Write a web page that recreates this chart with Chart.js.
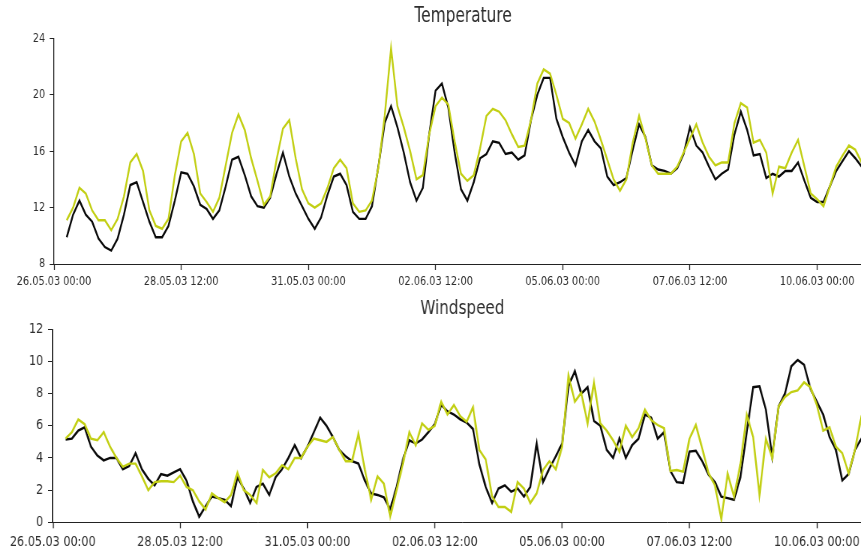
<!DOCTYPE html>
<html>
<head>
<meta charset="utf-8">
<script src="https://cdn.jsdelivr.net/npm/chart.js@4.4.1/dist/chart.umd.min.js"></script>
<style>
  html, body { margin: 0; padding: 0; background: #fff; overflow: hidden; width: 861px; height: 552px; }
  .panel { position: absolute; left: 0; transform-origin: 0 0; }
  #tempPanel { top: 0; transform: scaleX(0.75); }
  #windPanel { top: 290px; transform: scaleX(0.8); }
  canvas { display: block; }
</style>
</head>
<body>
<div class="panel" id="tempPanel"><canvas id="tempChart" width="1163" height="290"></canvas></div>
<div class="panel" id="windPanel"><canvas id="windChart" width="1090" height="262"></canvas></div>
<script>
// Time axis: hours since 26.05.03 00:00, samples every 3 hours from 06:00
const startHour = 6;
const stepHours = 3;
const xMaxHours = 386;
const tickHours = [0, 60, 120, 180, 240, 300, 360];
const tickLabels = ['26.05.03 00:00', '28.05.03 12:00', '31.05.03 00:00', '02.06.03 12:00',
                    '05.06.03 00:00', '07.06.03 12:00', '10.06.03 00:00'];

// Temperature (°C)
const tempBlack = [
  9.9, 11.5, 12.5, 11.5, 11.0, 9.8, 9.2, 8.95, 9.8, 11.5,
  13.6, 13.8, 12.4, 11.0, 9.9, 9.9, 10.7, 12.5, 14.5, 14.4,
  13.5, 12.2, 11.9, 11.2, 11.8, 13.5, 15.4, 15.6, 14.3, 12.8,
  12.1, 12.0, 12.7, 14.4, 15.9, 14.2, 13.0, 12.1, 11.2, 10.5,
  11.3, 12.9, 14.2, 14.4, 13.6, 11.7, 11.2, 11.2, 12.1, 14.9,
  18.0, 19.2, 17.7, 15.9, 13.8, 12.5, 13.4, 17.2, 20.3, 20.8,
  19.1, 15.9, 13.3, 12.5, 13.8, 15.5, 15.8, 16.7, 16.6, 15.8,
  15.9, 15.4, 15.7, 18.2, 20.0, 21.2, 21.2, 18.3, 17.0, 15.9,
  15.0, 16.7, 17.5, 16.7, 16.2, 14.2, 13.6, 13.8, 14.1, 16.1,
  17.9, 17.0, 15.0, 14.7, 14.6, 14.4, 14.8, 15.8, 17.7, 16.4,
  15.9, 14.9, 14.0, 14.4, 14.7, 17.2, 18.8, 17.5, 15.7, 15.8,
  14.1, 14.4, 14.2, 14.6, 14.6, 15.2, 13.9, 12.7, 12.4, 12.4,
  13.5, 14.6, 15.3, 16.0, 15.5, 14.9, 14.3, 13.8
];
const tempYellow = [
  11.1, 12.0, 13.4, 13.0, 11.8, 11.1, 11.1, 10.4, 11.2, 12.8,
  15.2, 15.8, 14.6, 11.8, 10.7, 10.5, 11.2, 14.3, 16.7, 17.3,
  15.8, 13.0, 12.4, 11.7, 12.7, 15.0, 17.3, 18.6, 17.5, 15.5,
  13.9, 12.2, 12.8, 15.4, 17.6, 18.2, 15.5, 13.3, 12.3, 12.0,
  12.3, 13.4, 14.8, 15.4, 14.8, 12.3, 11.7, 11.8, 12.5, 14.8,
  18.5, 23.3, 19.2, 17.7, 16.0, 14.0, 14.3, 17.2, 19.2, 19.8,
  19.3, 16.7, 14.4, 13.9, 14.3, 16.2, 18.5, 19.0, 18.8, 18.2,
  17.2, 16.3, 16.4, 18.2, 20.8, 21.8, 21.5, 20.0, 18.3, 18.0,
  16.9, 17.9, 19.0, 18.1, 16.8, 15.4, 14.0, 13.2, 14.0, 16.6,
  18.5, 16.9, 15.0, 14.4, 14.4, 14.4, 14.9, 15.9, 16.9, 17.9,
  16.6, 15.6, 15.0, 15.2, 15.2, 18.0, 19.4, 19.1, 16.6, 16.8,
  15.9, 13.0, 14.9, 14.8, 15.9, 16.8, 14.9, 13.0, 12.6, 12.1,
  13.5, 14.9, 15.7, 16.4, 16.1, 15.2, 14.6, 14.0
];

// Windspeed (m/s)
const windBlack = [
  5.15, 5.2, 5.7, 5.9, 4.7, 4.15, 3.85, 4.0, 4.0, 3.3,
  3.5, 4.3, 3.3, 2.7, 2.3, 3.0, 2.9, 3.1, 3.3, 2.6,
  1.3, 0.35, 1.0, 1.6, 1.5, 1.4, 1.0, 2.8, 2.1, 1.2,
  2.2, 2.4, 1.7, 2.8, 3.3, 4.0, 4.8, 4.0, 4.7, 5.6,
  6.5, 6.0, 5.3, 4.5, 4.1, 3.8, 3.65, 2.6, 1.8, 1.7,
  1.55, 0.8, 2.2, 3.9, 5.1, 4.9, 5.15, 5.6, 6.1, 7.3,
  6.9, 6.7, 6.4, 6.2, 5.8, 3.6, 2.2, 1.2, 2.1, 2.3,
  1.9, 2.1, 1.6, 2.2, 4.9, 2.5, 3.35, 4.1, 4.9, 8.5,
  9.4, 8.0, 8.4, 6.3, 6.0, 4.5, 4.0, 5.2, 4.0, 4.8,
  5.2, 6.7, 6.5, 5.2, 5.6, 3.2, 2.5, 2.45, 4.4, 4.45,
  3.8, 2.95, 2.5, 1.6, 1.5, 1.4, 2.8, 5.6, 8.4, 8.45,
  7.0, 4.1, 7.2, 8.0, 9.7, 10.1, 9.8, 8.3, 7.5, 6.7,
  5.3, 4.5, 2.6, 3.0, 4.5, 5.2, 5.5, 5.6
];
const windYellow = [
  5.2, 5.6, 6.4, 6.1, 5.2, 5.1, 5.6, 4.7, 4.0, 3.45,
  3.65, 3.65, 2.85, 2.0, 2.5, 2.55, 2.55, 2.5, 2.9, 2.2,
  2.0, 1.3, 0.8, 1.8, 1.5, 1.25, 1.7, 3.1, 2.0, 1.7,
  1.2, 3.25, 2.8, 3.05, 3.55, 3.3, 4.0, 4.0, 4.7, 5.2,
  5.1, 5.0, 5.3, 4.5, 3.8, 3.8, 5.5, 3.3, 1.4, 2.85,
  2.4, 0.35, 2.0, 3.65, 5.6, 4.8, 6.15, 5.75, 6.0, 7.5,
  6.7, 7.3, 6.6, 6.25, 7.15, 4.5, 3.9, 1.6, 0.95, 0.95,
  0.65, 2.5, 2.1, 1.2, 1.8, 3.25, 3.8, 3.3, 4.7, 9.1,
  7.5, 8.05, 6.15, 8.7, 6.15, 5.7, 5.1, 4.4, 6.0, 5.3,
  5.85, 7.0, 6.35, 6.05, 5.85, 3.2, 3.25, 3.15, 5.2, 6.05,
  4.6, 3.05, 2.3, 0.2, 3.0, 1.6, 3.6, 6.7, 5.3, 1.7,
  5.2, 4.0, 7.2, 7.8, 8.1, 8.2, 8.7, 8.4, 7.3, 5.7,
  5.9, 4.7, 4.3, 3.05, 4.5, 6.6, 7.0, 7.0
];

const FONT = "'DejaVu Sans', 'Liberation Sans', sans-serif";
const TEXT = '#2e2e2e';
const AXIS = '#222';
const BLACK = '#0a0a0a';
const YELLOW = '#c2cf14';

function toPoints(values) {
  return values.map((v, i) => ({ x: startHour + i * stepHours, y: v }));
}

function makeChart(id, cfg) {
  const ctx = document.getElementById(id);
  return new Chart(ctx, {
    type: 'line',
    data: {
      datasets: [
        { label: 'Series 2', data: toPoints(cfg.yellow), borderColor: YELLOW, borderWidth: 2.4,
          pointRadius: 0, tension: 0, fill: false },
        { label: 'Series 1', data: toPoints(cfg.black), borderColor: BLACK, borderWidth: 2.4,
          pointRadius: 0, tension: 0, fill: false }
      ]
    },
    options: {
      responsive: false,
      devicePixelRatio: 1,
      animation: false,
      events: [],
      layout: { padding: 0 },
      plugins: {
        legend: { display: false },
        tooltip: { enabled: false },
        title: {
          display: true,
          text: cfg.title,
          fullSize: false,
          color: TEXT,
          font: { family: FONT, size: cfg.titleSize, weight: 'normal' },
          padding: cfg.titlePadding
        }
      },
      scales: {
        x: {
          type: 'linear',
          min: 0,
          max: xMaxHours,
          afterBuildTicks: (scale) => { scale.ticks = tickHours.map(v => ({ value: v })); },
          afterFit: (scale) => { scale.height = cfg.xAxisHeight; },
          ticks: {
            autoSkip: false,
            maxRotation: 0,
            color: TEXT,
            padding: cfg.xTickPadding,
            font: { family: FONT, size: cfg.xTickSize },
            callback: (v) => { const k = tickHours.indexOf(v); return k >= 0 ? tickLabels[k] : ''; }
          },
          grid: { drawOnChartArea: false, drawTicks: true, tickLength: 6, color: AXIS, tickWidth: 1.3 },
          border: { display: true, color: AXIS, width: 1 }
        },
        y: {
          type: 'linear',
          min: cfg.yMin,
          max: cfg.yMax,
          afterFit: (scale) => { scale.width = cfg.yAxisWidth; },
          ticks: {
            stepSize: cfg.yStep,
            color: TEXT,
            padding: cfg.yTickPadding,
            font: { family: FONT, size: cfg.yTickSize }
          },
          grid: { drawOnChartArea: false, drawTicks: true, tickLength: cfg.yTickLength, color: AXIS },
          border: { display: true, color: AXIS, width: 1.3 }
        }
      }
    }
  });
}

makeChart('tempChart', {
  title: 'Temperature', titleSize: 20.5, titlePadding: { top: 4, bottom: 9.8 },
  black: tempBlack, yellow: tempYellow,
  yMin: 8, yMax: 24, yStep: 4,
  yAxisWidth: 72, yTickLength: 5.7, yTickPadding: 6, yTickSize: 13,
  xAxisHeight: 26, xTickPadding: 3.5, xTickSize: 13
});

makeChart('windChart', {
  title: 'Windspeed', titleSize: 19, titlePadding: { top: 8, bottom: 8.5 },
  black: windBlack, yellow: windYellow,
  yMin: 0, yMax: 12, yStep: 2,
  yAxisWidth: 66, yTickLength: 6, yTickPadding: 6, yTickSize: 14,
  xAxisHeight: 29.7, xTickPadding: 6, xTickSize: 14
});
</script>
</body>
</html>
